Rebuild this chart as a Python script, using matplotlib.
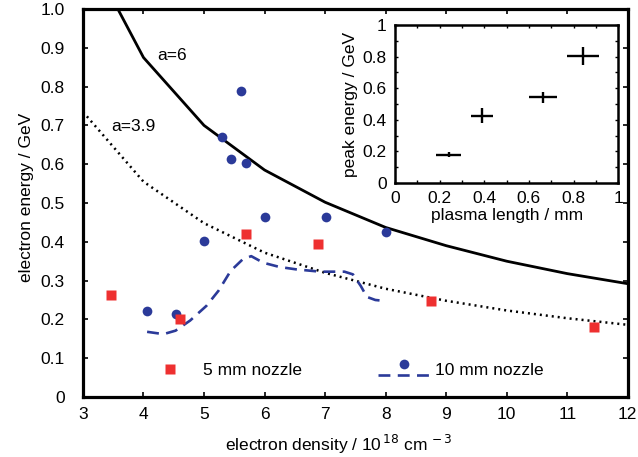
"""Electron energy vs electron density, with plasma-length inset."""
import matplotlib
matplotlib.use("Agg")
import matplotlib.pyplot as plt

plt.rcParams["font.family"] = ["Liberation Sans", "DejaVu Sans"]
plt.rcParams["font.size"] = 12.5

BLUE = "#2b3a99"
RED = "#ee3030"

# scaling curves (a=6 solid, a=3.9 dotted)
density_grid = [3, 4, 5, 6, 7, 8, 9, 10, 11, 12]
energy_a6 = [1.17, 0.875, 0.70, 0.585, 0.502, 0.437, 0.39, 0.35, 0.318, 0.292]
energy_a39 = [0.735, 0.555, 0.448, 0.372, 0.32, 0.279, 0.248, 0.223, 0.203, 0.186]

# 5 mm nozzle
dens_5mm = [3.47, 4.61, 5.70, 6.88, 8.75, 11.45]
energy_5mm = [0.262, 0.200, 0.419, 0.394, 0.248, 0.180]

# 10 mm nozzle, points
dens_10mm = [4.05, 4.53, 5.0, 5.305, 5.44, 5.61, 5.70, 6.0, 7.02, 8.01]
energy_10mm = [0.221, 0.213, 0.402, 0.671, 0.614, 0.789, 0.602, 0.463, 0.463, 0.426]

# 10 mm nozzle, dashed trend
trend_dens = [4.06, 4.33, 4.53, 4.77, 5.04, 5.24, 5.44, 5.64, 5.78, 5.98,
              6.25, 6.52, 6.92, 7.32, 7.46, 7.59, 7.69, 7.83, 7.96]
trend_energy = [0.168, 0.162, 0.171, 0.197, 0.235, 0.274, 0.325, 0.355, 0.363, 0.346,
                0.335, 0.329, 0.323, 0.323, 0.316, 0.286, 0.258, 0.250, 0.248]

# inset: peak energy vs plasma length
plasma_len = [0.24, 0.39, 0.663, 0.842]
plasma_len_err = [0.054, 0.049, 0.064, 0.073]
peak_energy = [0.18, 0.425, 0.543, 0.805]
peak_energy_err = [0.015, 0.047, 0.035, 0.058]

fig = plt.figure(figsize=(6.38, 4.57), dpi=100)
ax = fig.add_axes([0.130, 0.1313, 0.854, 0.849])

ax.plot(density_grid, energy_a6, color="black", lw=2.0)
ax.plot(density_grid, energy_a39, color="black", lw=1.8, ls=(0, (0.8, 1.6)))
ax.plot(trend_dens, trend_energy, color=BLUE, lw=1.9, ls=(0, (4.5, 2.8)))
ax.plot(dens_10mm, energy_10mm, "o", color=BLUE, ms=7, mec="none")
ax.plot(dens_5mm, energy_5mm, "s", color=RED, ms=6.5, mec="none")

ax.text(4.23, 0.879, "a=6", va="center", ha="left")
ax.text(3.47, 0.697, "a=3.9", va="center", ha="left")

# hand-placed legend
ax.plot([4.43], [0.073], "s", color=RED, ms=6.5, mec="none")
ax.text(4.98, 0.068, "5 mm nozzle", va="center", ha="left")
ax.plot([8.3], [0.085], "o", color=BLUE, ms=7, mec="none")
ax.plot([7.87, 8.78], [0.056, 0.056], color=BLUE, lw=1.9, ls=(0, (4.5, 2.8)))
ax.text(8.82, 0.068, "10 mm nozzle", va="center", ha="left")

ax.set_xlim(3, 12)
ax.set_ylim(0, 1.0)
ax.set_xticks(range(3, 13))
ax.set_yticks([i / 10 for i in range(11)])
ax.set_yticklabels(["0"] + [f"{i / 10:.1f}" for i in range(1, 11)])
ax.tick_params(direction="in", top=True, right=True, length=3.5, width=1.2)
ax.tick_params(axis="x", pad=7.5)
ax.tick_params(axis="y", pad=13)
for s in ax.spines.values():
    s.set_linewidth(2.3)
ax.set_xlabel("electron density / 10$^{\\,18}$ cm$^{\\,-3}$")
ax.set_ylabel("electron energy / GeV")
ax.xaxis.set_label_coords(0.47, -0.093)
ax.yaxis.set_label_coords(-0.09, 0.515)

# inset
ins = fig.add_axes([0.619, 0.5996, 0.350, 0.3454])
ins.errorbar(plasma_len, peak_energy, xerr=plasma_len_err, yerr=peak_energy_err,
             fmt="none", ecolor="black", elinewidth=1.7, capsize=0)
ins.set_xlim(0, 1)
ins.set_ylim(0, 1)
ins.set_xticks([0, 0.2, 0.4, 0.6, 0.8, 1])
ins.set_xticklabels(["0", "0.2", "0.4", "0.6", "0.8", "1"])
ins.set_yticks([0, 0.2, 0.4, 0.6, 0.8, 1])
ins.set_yticklabels(["0", "0.2", "0.4", "0.6", "0.8", "1"])
ins.set_xticks([i / 10 for i in range(11)], minor=True)
ins.set_yticks([i / 10 for i in range(11)], minor=True)
ins.tick_params(which="both", direction="in", top=True, right=True, length=2.5, width=1.0, pad=6)
for s in ins.spines.values():
    s.set_linewidth(1.8)
ins.set_xlabel("plasma length / mm", labelpad=1)
ins.set_ylabel("peak energy / GeV", labelpad=3)

fig.savefig("out.png", dpi=100)
